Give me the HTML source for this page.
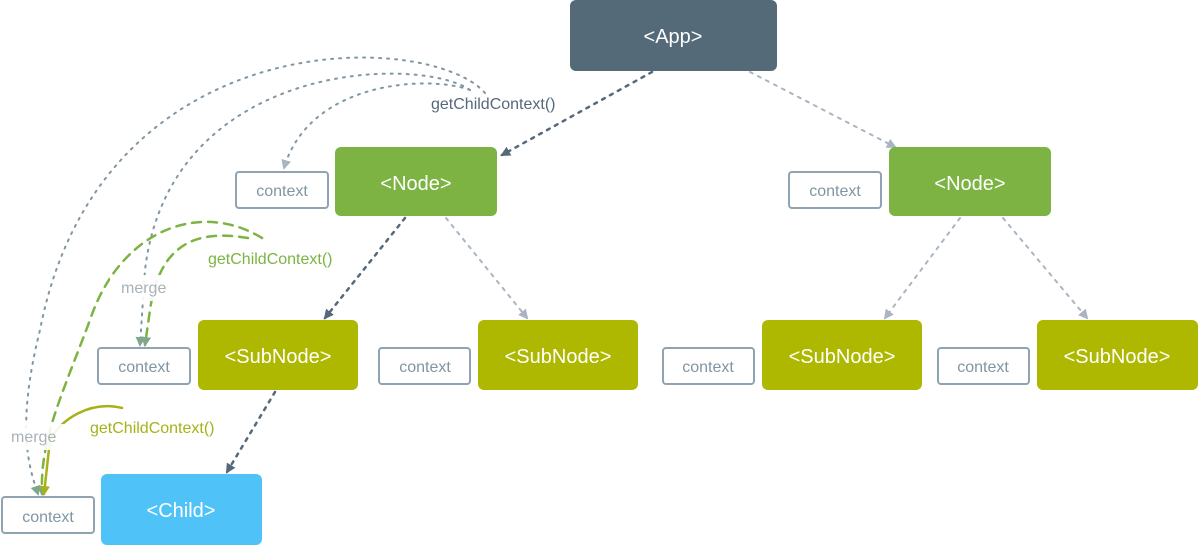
<!DOCTYPE html>
<html><head><meta charset="utf-8"><style>
html,body{margin:0;padding:0;background:#fff;width:1200px;height:545px;overflow:hidden}
svg{display:block}
text{font-family:"Liberation Sans",sans-serif}
</style></head><body>
<svg width="1200" height="545" viewBox="0 0 1200 545" xmlns="http://www.w3.org/2000/svg">
<defs>
<marker id="ad" markerWidth="10" markerHeight="10" refX="8" refY="5" orient="auto" markerUnits="userSpaceOnUse"><path d="M0,0 L10,5 L0,10 z" fill="#56697a"/></marker>
<marker id="al" markerWidth="10" markerHeight="10" refX="8" refY="5" orient="auto" markerUnits="userSpaceOnUse"><path d="M0,0 L10,5 L0,10 z" fill="#aab4c2"/></marker>
<marker id="ag" markerWidth="10" markerHeight="10" refX="8" refY="5" orient="auto" markerUnits="userSpaceOnUse"><path d="M0,0 L10,5 L0,10 z" fill="#7ea88a"/></marker>
<marker id="ay" markerWidth="10" markerHeight="10" refX="8" refY="5" orient="auto" markerUnits="userSpaceOnUse"><path d="M0,0 L10,5 L0,10 z" fill="#a6b218"/></marker>
</defs>
<g fill="none" stroke-linecap="round">
<!-- tree edges -->
<path d="M652,72 L502,155" stroke="#56697a" stroke-width="2.5" stroke-dasharray="3,6" marker-end="url(#ad)"/>
<path d="M750,72 L895,147" stroke="#aab4c2" stroke-width="2" stroke-dasharray="3,6" marker-end="url(#al)"/>
<path d="M405,218 L325,318" stroke="#56697a" stroke-width="2.5" stroke-dasharray="3,6" marker-end="url(#ad)"/>
<path d="M446,218 L527,318" stroke="#aab4c2" stroke-width="2" stroke-dasharray="3,6" marker-end="url(#al)"/>
<path d="M960,218 L885,318" stroke="#aab4c2" stroke-width="2" stroke-dasharray="3,6" marker-end="url(#al)"/>
<path d="M1003,218 L1087,318" stroke="#aab4c2" stroke-width="2" stroke-dasharray="3,6" marker-end="url(#al)"/>
<path d="M275,392 L227,472" stroke="#56697a" stroke-width="2.5" stroke-dasharray="3,6" marker-end="url(#ad)"/>
<!-- big arcs -->
<path d="M485,93 C430,30 100,20 40,330 C15,430 30,470 38,494" stroke="#7f96a3" stroke-width="2" stroke-dasharray="2,6" marker-end="url(#ag)"/>
<path d="M470,90 C420,55 170,60 145,270 L140,345" stroke="#7f96a3" stroke-width="2" stroke-dasharray="2,6" marker-end="url(#ag)"/>
<path d="M470,90 C430,75 310,80 284,168" stroke="#7f96a3" stroke-width="2" stroke-dasharray="2,6" marker-end="url(#al)"/>
<path d="M262,238 C200,200 120,230 90,320 C60,400 40,440 42,494" stroke="#7cb342" stroke-width="2.5" stroke-dasharray="9,7" marker-end="url(#ag)"/>
<path d="M248,238 C200,230 160,240 150,310 L145,345" stroke="#7cb342" stroke-width="2.5" stroke-dasharray="9,7" marker-end="url(#ag)"/>
<path d="M122,408 C90,400 60,420 50,440 L44,494" stroke="#a6b218" stroke-width="2.5" marker-end="url(#ay)"/>
</g>
<!-- label backgrounds -->
<rect x="110" y="275" width="70" height="26" fill="#fff" opacity="0.9"/>
<rect x="0" y="424" width="70" height="26" fill="#fff" opacity="0.9"/>
<text x="431" y="109" font-size="16" fill="#56697a">getChildContext()</text>
<text x="208" y="264" font-size="16" fill="#7cb342">getChildContext()</text>
<text x="90" y="433" font-size="16" fill="#a6b218">getChildContext()</text>
<text x="121" y="293" font-size="16" fill="#a9b2b8">merge</text>
<text x="11" y="442" font-size="16" fill="#a9b2b8">merge</text>
<!-- boxes -->
<rect x="570" y="0" width="207" height="71" rx="6" fill="#546a79"/>
<text x="673" y="43" font-size="20" fill="#fff" text-anchor="middle">&lt;App&gt;</text>
<g font-size="20" fill="#fff" text-anchor="middle">
<rect x="335" y="147" width="162" height="69" rx="6" fill="#7cb342"/><text x="416" y="190">&lt;Node&gt;</text>
<rect x="889" y="147" width="162" height="69" rx="6" fill="#7cb342"/><text x="970" y="190">&lt;Node&gt;</text>
<rect x="198" y="320" width="160" height="70" rx="6" fill="#afb800"/><text x="278" y="363">&lt;SubNode&gt;</text>
<rect x="478" y="320" width="160" height="70" rx="6" fill="#afb800"/><text x="558" y="363">&lt;SubNode&gt;</text>
<rect x="762" y="320" width="160" height="70" rx="6" fill="#afb800"/><text x="842" y="363">&lt;SubNode&gt;</text>
<rect x="1037" y="320" width="161" height="70" rx="6" fill="#afb800"/><text x="1117" y="363">&lt;SubNode&gt;</text>
<rect x="101" y="474" width="161" height="71" rx="6" fill="#4fc3f7"/><text x="181" y="517">&lt;Child&gt;</text>
</g>
<g font-size="16" fill="#7f96a3" text-anchor="middle">
<rect x="236" y="172" width="92" height="36" rx="3" fill="#fff" stroke="#8fa3b0" stroke-width="2"/><text x="282" y="196">context</text>
<rect x="789" y="172" width="92" height="36" rx="3" fill="#fff" stroke="#8fa3b0" stroke-width="2"/><text x="835" y="196">context</text>
<rect x="98" y="348" width="92" height="36" rx="3" fill="#fff" stroke="#8fa3b0" stroke-width="2"/><text x="144" y="372">context</text>
<rect x="379" y="348" width="91" height="36" rx="3" fill="#fff" stroke="#8fa3b0" stroke-width="2"/><text x="425" y="372">context</text>
<rect x="663" y="348" width="91" height="36" rx="3" fill="#fff" stroke="#8fa3b0" stroke-width="2"/><text x="708" y="372">context</text>
<rect x="938" y="348" width="91" height="36" rx="3" fill="#fff" stroke="#8fa3b0" stroke-width="2"/><text x="983" y="372">context</text>
<rect x="2" y="497" width="92" height="36" rx="3" fill="#fff" stroke="#8fa3b0" stroke-width="2"/><text x="48" y="522">context</text>
</g>
</svg>
</body></html>
